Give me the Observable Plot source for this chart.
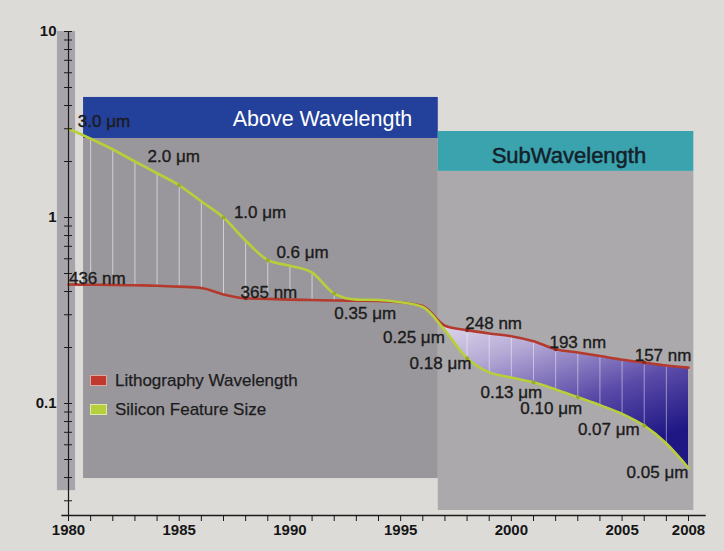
<!DOCTYPE html>
<html><head><meta charset="utf-8">
<script src="https://cdn.jsdelivr.net/npm/d3@7"></script>
<script src="https://cdn.jsdelivr.net/npm/@observablehq/plot@0.6"></script>
<style>
body{margin:0;background:#dcdbd8;}
#wrap{position:relative;width:724px;height:551px;font-family:"Liberation Sans",Arial,sans-serif;}
.legend{position:absolute;left:90px;top:366px;font-size:17px;color:#1c1c1c;-webkit-text-stroke:0.25px #1c1c1c;}
.legend div{display:flex;align-items:center;height:29px;}
.sw{width:15px;height:9px;margin-right:8px;border:1px solid rgba(255,255,255,0.55);-webkit-text-stroke:0;}
</style></head><body><div id="wrap"></div>
<script>
const years = [1980,1981,1982,1983,1984,1985,1986,1987,1988,1989,1990,1991,1992,1993,1994,1995,1996,1997,1998,1999,2000,2001,2002,2003,2004,2005,2006,2007,2008];
const silicon = [3.0,2.65,2.32,2.0,1.73,1.49,1.22,1.0,0.75,0.59,0.55,0.505,0.39,0.362,0.36,0.35,0.33,0.247,0.175,0.147,0.138,0.13,0.119,0.108,0.098,0.088,0.076,0.061,0.045];
const litho = [0.436,0.435,0.434,0.432,0.43,0.425,0.418,0.386,0.368,0.365,0.362,0.36,0.358,0.357,0.356,0.35,0.334,0.262,0.248,0.238,0.23,0.216,0.196,0.188,0.18,0.172,0.166,0.16,0.156];

const siliconMarkYears = [1985,1987,1989,1992,1998,2001,2003,2006];
const lithoMarkYears = [1988,1998,2002,2006];
const aboveRuleYears = [1981,1982,1983,1984,1985,1986,1987,1988,1989,1990,1991,1992];
const subRuleYears = [1998,1999,2000,2001,2002,2003,2004,2005,2006,2007];

const labelText = ["3.0 μm","2.0 μm","1.0 μm","0.6 μm","0.35 μm","0.25 μm","0.18 μm","0.13 μm","0.10 μm","0.07 μm","0.05 μm","436 nm","365 nm","248 nm","193 nm","157 nm"];
const labelYear = [1981.6,1984.75,1988.65,1990.57,1993.4,1995.6,1996.8,2000.0,2001.8,2004.4,2006.6,1981.3,1989.05,1999.2,2003.0,2006.85];
const labelValue = [3.28,2.13,1.06,0.65,0.305,0.226,0.164,0.115,0.094,0.0725,0.0426,0.47,0.395,0.269,0.214,0.181];

const eraNames = ["Above Wavelength","SubWavelength"];
const eraStart = [1980.68,1996.7];
const eraEnd = [1996.7,2008.24];
const eraTop = [4.42,2.90];
const eraHeaderBottom = [2.66,1.77];
const eraBottom = [0.0395,0.0266];
const eraLabelYear = [1991.47,2002.6];
const eraLabelValue = [3.37,2.15];

const xTickYears = years;
const xLabelYears = [1980,1985,1990,1995,2000,2005,2008];
const yLabelValues = [10,1,0.1];
const yDomain = [0.025,10];

const legendItems = ["Lithography Wavelength","Silicon Feature Size"];
const legendColors = ["#c0392e","#b6cf3c"];

const table = years.map((y,i)=>({year:y, si:silicon[i], li:litho[i]}));
const era = eraNames.map((n,i)=>({name:n, x1:eraStart[i], x2:eraEnd[i], top:eraTop[i], hb:eraHeaderBottom[i], bottom:eraBottom[i], lx:eraLabelYear[i], ly:eraLabelValue[i]}));
const labels = labelText.map((t,i)=>({t, x:labelYear[i], y:labelValue[i]}));
const yTicks = d3.scaleLog().domain(yDomain).ticks();

const chart = Plot.plot({
  width:724, height:551,
  marginLeft:68, marginRight:36, marginTop:31, marginBottom:36,
  x:{domain:[1980,2008], axis:null},
  y:{type:"log", domain:yDomain, axis:null},
  style:{background:"#dcdbd8", fontFamily:"'Liberation Sans', Arial, sans-serif", overflow:"visible"},
  marks:[
    // y-axis bar
    Plot.rect([0],{x1:1979.5,x2:1980.32,y1:0.034,y2:10,fill:"#a7a5a9"}),
    // panels
    Plot.rect([era[1]],{x1:"x1",x2:"x2",y1:"bottom",y2:"hb",fill:"#aba9ac"}),
    Plot.rect([era[0]],{x1:"x1",x2:"x2",y1:"bottom",y2:"hb",fill:"#9a979c"}),
    Plot.rect([era[0]],{x1:"x1",x2:"x2",y1:"hb",y2:"top",fill:"#23409a"}),
    Plot.rect([era[1]],{x1:"x1",x2:"x2",y1:"hb",y2:"top",fill:"#3aa3ad"}),
    Plot.text([era[0]],{x:"lx",y:"ly",text:"name",fill:"white",fontSize:21.5}),
    Plot.text([era[1]],{x:"lx",y:"ly",text:"name",fill:"#14202a",stroke:"#14202a",strokeWidth:0.5,fontSize:22}),
    // fill between lines in subwavelength
    Plot.areaY(table.filter(d=>d.year>=1996),{x:"year",y1:"si",y2:"li",curve:"monotone-x",fill:"url(#subGrad)"}),
    // white verticals
    Plot.ruleX(table.filter(d=>aboveRuleYears.includes(d.year)),{x:"year",y1:"li",y2:"si",stroke:"white",strokeOpacity:0.55,strokeWidth:1}),
    Plot.ruleX(table.filter(d=>subRuleYears.includes(d.year)),{x:"year",y1:"li",y2:"si",stroke:"white",strokeOpacity:0.45,strokeWidth:1}),
    // lines
    Plot.line(table,{x:"year",y:"li",curve:"monotone-x",stroke:"#b33a2c",strokeWidth:2.6}),
    Plot.line(table,{x:"year",y:"si",curve:"monotone-x",stroke:"#b9cf3a",strokeWidth:2.6}),
    Plot.dot(table.filter(d=>siliconMarkYears.includes(d.year)),{x:"year",y:"si",r:2,fill:"#9aad2a"}),
    Plot.dot(table.filter(d=>lithoMarkYears.includes(d.year)),{x:"year",y:"li",r:2,fill:"#8e2a20"}),
    // labels
    Plot.text(labels,{x:"x",y:"y",text:"t",fontSize:17,fill:"#1b1b1b",stroke:"#1b1b1b",strokeWidth:0.35}),
    // y axis
    Plot.ruleX([1980],{y1:yDomain[0],y2:10,stroke:"#1a1a1a",strokeWidth:1.2}),
    Plot.ruleY(yTicks,{x1:1979.82,x2:1980.18,stroke:"#1a1a1a",strokeWidth:1}),
    Plot.text(yLabelValues,{x:1980,y:d=>d,text:d=>String(d),dx:-12,textAnchor:"end",fontSize:15,fontWeight:"bold",fill:"#151515"}),
    // x axis
    Plot.ruleY([yDomain[0]],{x1:1979.7,x2:2008.8,stroke:"#1a1a1a",strokeWidth:1.3}),
    Plot.axisX({ticks:xTickYears,tickSize:6,tickPadding:3,tickFormat:d=>xLabelYears.includes(d)?String(d):"",fontSize:15,fontWeight:"bold",color:"#151515",label:null}),
  ]
});
chart.style.fontSize = "15px";
d3.select(chart).insert("defs",":first-child").html(`
  <linearGradient id="subGrad" x1="0" y1="0" x2="0.55" y2="1">
    <stop offset="0" stop-color="#f2eef6"/>
    <stop offset="0.35" stop-color="#b6aad6"/>
    <stop offset="0.7" stop-color="#5a4aa8"/>
    <stop offset="1" stop-color="#1f1784"/>
  </linearGradient>`);
const wrap = document.getElementById("wrap");
wrap.appendChild(chart);
const lg = document.createElement("div");
lg.className = "legend";
lg.innerHTML = legendItems.map((t,i)=>`<div><span class="sw" style="background:${legendColors[i]}"></span>${t}</div>`).join("");
wrap.appendChild(lg);
</script>
</body></html>
